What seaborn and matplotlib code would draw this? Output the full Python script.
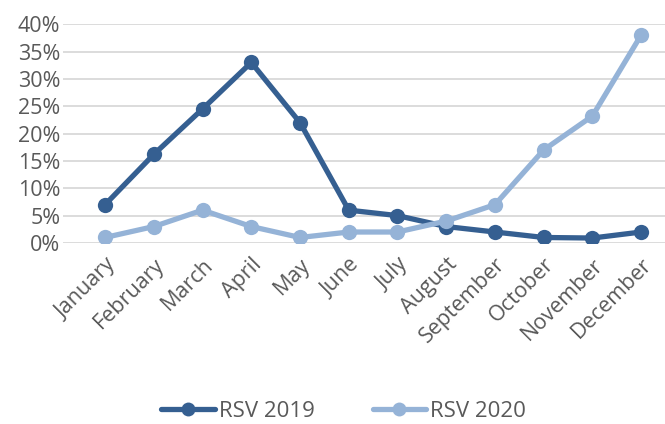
import matplotlib
matplotlib.use("Agg")
import matplotlib.pyplot as plt
import seaborn as sns
import pandas as pd
from matplotlib.ticker import PercentFormatter

# data
months = ['January', 'February', 'March', 'April', 'May', 'June', 'July',
          'August', 'September', 'October', 'November', 'December']
rsv_2019 = [0.07, 0.162, 0.245, 0.33, 0.22, 0.06, 0.05, 0.03, 0.02, 0.01, 0.009, 0.02]
rsv_2020 = [0.01, 0.03, 0.06, 0.03, 0.01, 0.02, 0.02, 0.04, 0.07, 0.17, 0.232, 0.38]
series_names = ['RSV 2019', 'RSV 2020']
colors = ['#355F91', '#95B3D7']

df = pd.DataFrame({'month': months * 2,
                   'x': list(range(len(months))) * 2,
                   'value': rsv_2019 + rsv_2020,
                   'series': [series_names[0]] * 12 + [series_names[1]] * 12})

sns.set_theme(style='white')
plt.rcParams['font.family'] = ['Open Sans', 'DejaVu Sans']
text_color = '#595959'

fig = plt.figure(figsize=(6.65, 4.24), dpi=100)
ax = fig.add_axes([0.095, 0.427, 0.905, 0.516])

sns.lineplot(data=df, x='x', y='value', hue='series', palette=colors,
             marker='o', markersize=11, markeredgewidth=0, linewidth=3.8,
             ax=ax, legend=False)

ax.set_xlim(-0.86, 11.49)
ax.set_ylim(0, 0.40)
ax.set_yticks([i * 0.05 for i in range(9)])
ax.yaxis.set_major_formatter(PercentFormatter(1.0, decimals=0))
ax.grid(axis='y', color='#D9D9D9', linewidth=1.3)
ax.set_axisbelow(True)
for s in ax.spines.values():
    s.set_visible(False)

ax.set_xticks(range(len(months)))
ax.set_xticklabels(months, rotation=45, ha='right', rotation_mode='anchor')
ax.tick_params(axis='both', labelsize=15.5, colors=text_color, length=0)
ax.tick_params(axis='x', pad=8)
ax.tick_params(axis='y', pad=2)
ax.set_xlabel('')
ax.set_ylabel('')

handles = [plt.Line2D([], [], color=c, marker='o', markersize=10,
                      markeredgewidth=0, linewidth=3.8) for c in colors]
fig.legend(handles, series_names, loc='center', bbox_to_anchor=(0.517, 0.03),
           ncol=2, frameon=False, fontsize=16, labelcolor=text_color,
           handlelength=2.4, handletextpad=0.2, columnspacing=2.6)

fig.savefig('out.png', dpi=100)
